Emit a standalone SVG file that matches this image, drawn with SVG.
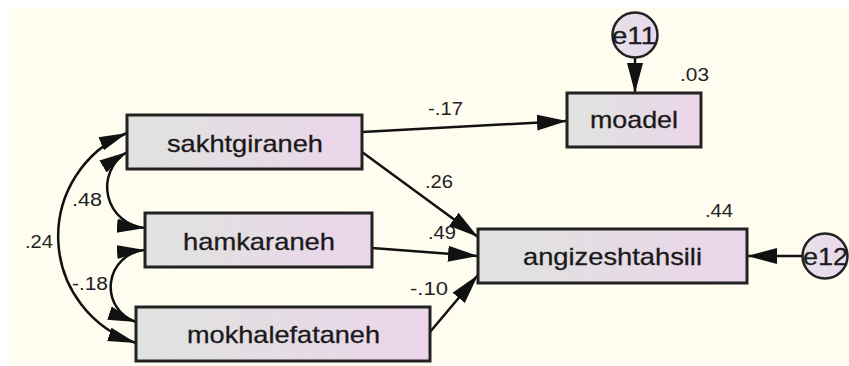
<svg xmlns="http://www.w3.org/2000/svg" width="849" height="366" viewBox="0 0 849 366">
<defs>
<linearGradient id="boxg" x1="0" y1="0" x2="1" y2="0">
<stop offset="0" stop-color="#dfe3df"/>
<stop offset="1" stop-color="#ecd5ea"/>
</linearGradient>
<linearGradient id="circg" x1="0" y1="0" x2="1" y2="0">
<stop offset="0" stop-color="#e4e2ea"/>
<stop offset="1" stop-color="#ead7ec"/>
</linearGradient>
<marker id="ah" markerUnits="userSpaceOnUse" markerWidth="32" markerHeight="18" refX="30" refY="9" orient="auto-start-reverse">
<path d="M0,1 L30,9 L0,17 z" fill="#111"/>
</marker>
<marker id="ch" markerUnits="userSpaceOnUse" markerWidth="30" markerHeight="16" refX="28" refY="8" orient="auto-start-reverse">
<path d="M0,1 L28,8 L0,15 z" fill="#111"/>
</marker>
<style>
.box{fill:url(#boxg);stroke:#222;stroke-width:3}
.err{fill:url(#circg);stroke:#222;stroke-width:2.5}
.lbl{font-family:"Liberation Sans",Arial,sans-serif;font-size:24px;fill:#1a1a1a;stroke:#1a1a1a;stroke-width:0.3;text-anchor:middle}
.elbl{font-family:"Liberation Sans",Arial,sans-serif;font-size:24px;fill:#1a1a1a;stroke:#1a1a1a;stroke-width:0.3}
.num{font-family:"Liberation Sans",Arial,sans-serif;font-size:18px;fill:#222}
.con{fill:none;stroke:#111;stroke-width:2.5}
.dir{marker-end:url(#ah)}
.cov{marker-start:url(#ch);marker-end:url(#ch)}
</style>
</defs>
<rect x="0" y="0" width="849" height="366" fill="#ffffff"/>
<rect x="8" y="8" width="841" height="358" fill="#fefdf0"/>
<g id="labels">
<text class="num" x="428" y="115" textLength="35" lengthAdjust="spacingAndGlyphs">-.17</text>
<text class="num" x="425" y="188" textLength="28" lengthAdjust="spacingAndGlyphs">.26</text>
<text class="num" x="428" y="239" textLength="28" lengthAdjust="spacingAndGlyphs">.49</text>
<text class="num" x="410" y="295" textLength="38" lengthAdjust="spacingAndGlyphs">-.10</text>
<text class="num" x="680" y="81" textLength="29" lengthAdjust="spacingAndGlyphs">.03</text>
<text class="num" x="705" y="217" textLength="28" lengthAdjust="spacingAndGlyphs">.44</text>
<text class="num" x="72" y="206" textLength="30" lengthAdjust="spacingAndGlyphs">.48</text>
<text class="num" x="25" y="248" textLength="28" lengthAdjust="spacingAndGlyphs">.24</text>
<text class="num" x="72" y="290" textLength="36" lengthAdjust="spacingAndGlyphs">-.18</text>
</g>
<g id="connectors">
<path class="con dir" d="M362,132 L567,121"/>
<path class="con dir" d="M362,152 L478,237"/>
<path class="con dir" d="M372,248 L478,256"/>
<path class="con dir" d="M430,332 L478,275"/>
<path class="con dir" d="M635,57 L635,93"/>
<path class="con dir" d="M803,256 L747,256"/>
<path class="con cov" d="M127,152 A41,41 0 0 0 145,228"/>
<path class="con cov" d="M145,250 A37,37 0 0 0 136,322"/>
<path class="con cov" d="M127,133 A112,112 0 0 0 136,343"/>
</g>
<g id="sakhtgiraneh">
<rect class="box" x="127" y="115" width="235" height="54"/>
<text class="lbl" x="245" y="152" textLength="156" lengthAdjust="spacingAndGlyphs">sakhtgiraneh</text>
</g>
<g id="hamkaraneh">
<rect class="box" x="145" y="213" width="227" height="54"/>
<text class="lbl" x="259" y="250" textLength="152" lengthAdjust="spacingAndGlyphs">hamkaraneh</text>
</g>
<g id="mokhalefataneh">
<rect class="box" x="136" y="307" width="294" height="54"/>
<text class="lbl" x="283.5" y="343" textLength="193" lengthAdjust="spacingAndGlyphs">mokhalefataneh</text>
</g>
<g id="moadel">
<rect class="box" x="567" y="93" width="134" height="54"/>
<text class="lbl" x="634" y="128" textLength="88" lengthAdjust="spacingAndGlyphs">moadel</text>
</g>
<g id="angizeshtahsili">
<rect class="box" x="478" y="229" width="269" height="54"/>
<text class="lbl" x="612.5" y="265" textLength="179" lengthAdjust="spacingAndGlyphs">angizeshtahsili</text>
</g>
<g id="e11">
<circle class="err" cx="635" cy="35" r="22.5"/>
<text class="elbl" x="612" y="44" textLength="44" lengthAdjust="spacingAndGlyphs">e11</text>
</g>
<g id="e12">
<circle class="err" cx="825" cy="256" r="22.5"/>
<text class="elbl" x="803" y="265" textLength="45" lengthAdjust="spacingAndGlyphs">e12</text>
</g>
</svg>
